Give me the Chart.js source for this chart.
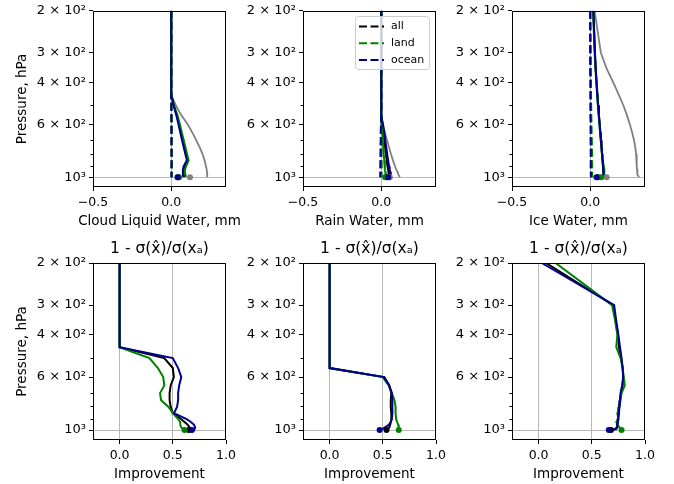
<!DOCTYPE html>
<html>
<head>
<meta charset="utf-8">
<script src="https://cdn.jsdelivr.net/npm/chart.js@4.4.1/dist/chart.umd.min.js"></script>
<style>
  html, body { margin: 0; padding: 0; background: #fff; overflow: hidden; }
  #fig { position: relative; width: 674px; height: 484px; overflow: hidden; }
  #fig canvas { position: absolute; }
</style>
</head>
<body>
<div id="fig"></div>
<script>
// pressure levels, hPa
const levels = [200, 300, 350, 400, 450, 500, 550, 600, 650, 700, 750, 800, 850, 900, 925, 950, 975, 1000];

// y axis ticks
const yTicks = [200, 300, 400, 600, 1000];
const yTickLabels = ['2 × 10²', '3 × 10²', '4 × 10²', '6 × 10²', '10³'];
const yMinorTicks = [500, 700, 800, 900];

// x axis ticks
const profileTicks = [-0.5, 0.0];
const profileTickLabels = ['−0.5', '0.0'];
const improvementTicks = [0.0, 0.5, 1.0];
const improvementTickLabels = ['0.0', '0.5', '1.0'];

// cloud liquid water, mm
const clwPrior = [0, 0, 0, 0, 0, 0.03, 0.065, 0.105, 0.135, 0.16, 0.182, 0.2, 0.213, 0.222, 0.226, 0.229, 0.23, 0.23];
const clwAll = [0, 0, 0, 0, 0, 0.016, 0.036, 0.05, 0.062, 0.074, 0.085, 0.095, 0.105, 0.085, 0.081, 0.079, 0.081, 0.083];
const clwLand = [0, 0, 0, 0, 0, 0.018, 0.04, 0.055, 0.068, 0.08, 0.091, 0.101, 0.111, 0.095, 0.089, 0.087, 0.09, 0.092];
const clwOcean = [0, 0, 0, 0, 0, 0.015, 0.033, 0.046, 0.058, 0.069, 0.08, 0.09, 0.1, 0.079, 0.075, 0.074, 0.075, 0.078];
const clwBiasAll = [0, 0, 0, 0, 0, 0.001, 0.001, 0.002, 0.002, 0.002, 0.002, 0.002, 0.003, 0.002, 0.002, 0.002, 0.002, 0.002];
const clwBiasLand = [0, 0, 0, 0, 0, 0.001, 0.002, 0.003, 0.003, 0.003, 0.003, 0.003, 0.004, 0.003, 0.003, 0.003, 0.003, 0.003];
const clwBiasOcean = [0, 0, 0, 0, 0, 0.001, 0.001, 0.001, 0.001, 0.001, 0.002, 0.002, 0.002, 0.002, 0.002, 0.002, 0.002, 0.002];
const clwSurface = [0.045, 0.05, 0.04, 0.12]; // all, land, ocean, prior

// rain water, mm
const rainPrior = [0, 0, 0, 0, 0, 0, 0, 0.012, 0.024, 0.037, 0.05, 0.062, 0.075, 0.088, 0.095, 0.104, 0.11, 0.118];
const rainAll = [0, 0, 0, 0, 0, 0, 0, 0.008, 0.015, 0.02, 0.025, 0.03, 0.035, 0.04, 0.043, 0.046, 0.049, 0.05];
const rainLand = [0, 0, 0, 0, 0, 0, 0, 0.004, 0.007, 0.01, 0.013, 0.016, 0.019, 0.022, 0.024, 0.026, 0.028, 0.03];
const rainOcean = [0, 0, 0, 0, 0, 0, 0, 0.01, 0.02, 0.026, 0.032, 0.038, 0.044, 0.05, 0.054, 0.057, 0.06, 0.062];
const rainBiasAll = [0, 0, 0, 0, 0, 0, 0, -0.001, -0.002, -0.002, -0.003, -0.003, -0.003, -0.004, -0.004, -0.004, -0.004, -0.004];
const rainBiasLand = [0, 0, 0, 0, 0, 0, 0, 0.001, 0.001, 0.002, 0.002, 0.002, 0.003, 0.003, 0.003, 0.003, 0.003, 0.003];
const rainBiasOcean = [0, 0, 0, 0, 0, 0, 0, -0.002, -0.003, -0.003, -0.004, -0.004, -0.005, -0.005, -0.006, -0.006, -0.006, -0.006];
const rainSurface = [0.035, 0.025, 0.045, 0.055];

// ice water, mm
const icePrior = [0.028, 0.068, 0.105, 0.147, 0.182, 0.212, 0.235, 0.253, 0.268, 0.28, 0.288, 0.293, 0.296, 0.298, 0.299, 0.3, 0.302, 0.312];
const iceAll = [0.02, 0.03, 0.035, 0.041, 0.046, 0.051, 0.056, 0.061, 0.065, 0.069, 0.073, 0.076, 0.079, 0.082, 0.084, 0.086, 0.087, 0.085];
const iceLand = [0.018, 0.028, 0.033, 0.039, 0.044, 0.049, 0.054, 0.059, 0.063, 0.067, 0.071, 0.075, 0.081, 0.086, 0.089, 0.091, 0.089, 0.087];
const iceOcean = [0.02, 0.03, 0.035, 0.04, 0.045, 0.05, 0.055, 0.06, 0.064, 0.068, 0.072, 0.075, 0.078, 0.081, 0.083, 0.085, 0.086, 0.084];
const iceBiasAll = [0, 0.001, 0.002, 0.003, 0.003, 0.004, 0.004, 0.005, 0.005, 0.006, 0.006, 0.006, 0.006, 0.006, 0.006, 0.006, 0.006, 0.006];
const iceBiasLand = [0, 0.002, 0.003, 0.004, 0.005, 0.006, 0.007, 0.008, 0.009, 0.01, 0.011, 0.012, 0.012, 0.012, 0.013, 0.013, 0.013, 0.012];
const iceBiasOcean = [0, 0, 0, 0.001, 0.001, 0.001, 0.001, 0.002, 0.002, 0.002, 0.003, 0.003, 0.003, 0.003, 0.003, 0.003, 0.004, 0.004];
const iceSurface = [0.05, 0.07, 0.04, 0.105];

// improvement 1 - sigma(xhat)/sigma(xa)
const impClwAll = [0, 0, 0, 0, 0, 0.42, 0.5, 0.51, 0.48, 0.47, 0.47, 0.48, 0.5, 0.58, 0.61, 0.64, 0.66, 0.66];
const impClwLand = [0, 0, 0, 0, 0, 0.28, 0.36, 0.41, 0.42, 0.38, 0.39, 0.46, 0.5, 0.55, 0.57, 0.57, 0.58, 0.61];
const impClwOcean = [0, 0, 0, 0, 0, 0.5, 0.55, 0.58, 0.56, 0.55, 0.55, 0.54, 0.51, 0.63, 0.67, 0.7, 0.71, 0.7];
const impClwSurface = [0.65, 0.61, 0.68];

const impRainAll = [0, 0, 0, 0, 0, 0, 0, 0.515, 0.56, 0.58, 0.575, 0.575, 0.58, 0.58, 0.575, 0.57, 0.56, 0.545];
const impRainLand = [0, 0, 0, 0, 0, 0, 0, 0.5, 0.555, 0.585, 0.61, 0.62, 0.62, 0.625, 0.635, 0.645, 0.65, 0.655];
const impRainOcean = [0, 0, 0, 0, 0, 0, 0, 0.51, 0.56, 0.585, 0.59, 0.59, 0.59, 0.585, 0.575, 0.555, 0.52, 0.48];
const impRainSurface = [0.535, 0.65, 0.47];

const impIceAll = [0.07, 0.7, 0.725, 0.745, 0.755, 0.775, 0.79, 0.795, 0.79, 0.775, 0.765, 0.755, 0.75, 0.745, 0.74, 0.74, 0.74, 0.72];
const impIceLand = [0.16, 0.69, 0.72, 0.74, 0.73, 0.77, 0.79, 0.8, 0.81, 0.78, 0.77, 0.76, 0.74, 0.75, 0.73, 0.745, 0.76, 0.79];
const impIceOcean = [0.03, 0.71, 0.73, 0.75, 0.765, 0.78, 0.79, 0.795, 0.785, 0.77, 0.765, 0.76, 0.755, 0.75, 0.745, 0.74, 0.735, 0.7];
const impIceSurface = [0.68, 0.78, 0.66];

const BLACK = '#000000', GREEN = '#008000', NAVY = '#00008b', GRAY = '#808080', GRID = '#b8b8b8';
const DASH = [8, 3.5];

Chart.defaults.font.family = '"DejaVu Sans", sans-serif';
Chart.defaults.color = '#000';

const fig = document.getElementById('fig');

function profile(values) {
    return values.map((v, i) => ({ x: v, y: levels[i] }));
}

function lineDataset(values, color, width, dash, label) {
    return {
        label: label || '',
        legendEntry: !!label,
        data: profile(values),
        showLine: true,
        borderColor: color,
        backgroundColor: color,
        borderWidth: width,
        borderDash: dash || [],
        pointRadius: 0
    };
}

function surfaceDataset(value, color) {
    return {
        data: [{ x: value, y: 1000 }],
        showLine: false,
        pointRadius: 3,
        pointBorderWidth: 0,
        backgroundColor: color,
        borderColor: color
    };
}

// black frame on all four sides, like matplotlib spines
const framePlugin = {
    id: 'frame',
    afterDatasetsDraw(chart) {
        const { ctx, chartArea: a } = chart;
        ctx.save();
        ctx.strokeStyle = '#000';
        ctx.lineWidth = 1;
        ctx.strokeRect(Math.round(a.left) + 0.5, Math.round(a.top) + 0.5,
            Math.round(a.right - a.left) - 1, Math.round(a.bottom - a.top) - 1);
        ctx.restore();
    }
};

// matplotlib style boxed legend, entries taken from the datasets
const boxLegend = {
    id: 'boxLegend',
    afterDraw(chart, args, opts) {
        if (!opts.show) return;
        const items = chart.data.datasets.filter(d => d.legendEntry);
        const { ctx, chartArea: a } = chart;
        const bw = 74, bh = 53;
        const bx = Math.round(a.right - 7 - bw), by = Math.round(a.top + 5);
        ctx.save();
        ctx.beginPath();
        ctx.roundRect(bx + 0.5, by + 0.5, bw, bh, 3);
        ctx.fillStyle = 'rgba(255,255,255,0.8)';
        ctx.fill();
        ctx.strokeStyle = '#cccccc';
        ctx.lineWidth = 1;
        ctx.stroke();
        ctx.font = '11px "DejaVu Sans"';
        ctx.textBaseline = 'middle';
        ctx.textAlign = 'left';
        items.forEach((d, i) => {
            const y = by + 10.5 + i * 16.7;
            ctx.beginPath();
            ctx.setLineDash(d.borderDash);
            ctx.strokeStyle = d.borderColor;
            ctx.lineWidth = d.borderWidth;
            ctx.moveTo(bx + 4, y);
            ctx.lineTo(bx + 29, y);
            ctx.stroke();
            ctx.setLineDash([]);
            ctx.fillStyle = '#000';
            ctx.fillText(d.label, bx + 36, y);
        });
        ctx.restore();
    }
};

function buildChart(row, col, datasets, xCfg, showLegend) {
    const plotLeft = [93, 303, 512][col];
    const padTop = row === 0 ? 10 : 30;
    const canvasTop = row === 0 ? 0 : 233;
    // symmetric side space so the full width titles centre on the plot
    const w = 90 + 133 + 90, h = padTop + 177 + 50;

    const canvas = document.createElement('canvas');
    canvas.width = w;
    canvas.height = h;
    canvas.style.left = (plotLeft - 90) + 'px';
    canvas.style.top = canvasTop + 'px';
    canvas.style.width = w + 'px';
    canvas.style.height = h + 'px';
    fig.appendChild(canvas);

    const n = datasets.length;
    datasets.forEach((d, i) => { d.order = n - i; });

    new Chart(canvas, {
        type: 'scatter',
        data: { datasets },
        plugins: [framePlugin, boxLegend],
        options: {
            responsive: false,
            animation: false,
            devicePixelRatio: 1,
            events: [],
            layout: { padding: { top: row === 0 ? padTop : 0, right: 0, left: 0, bottom: 0 } },
            plugins: {
                legend: { display: false },
                tooltip: { enabled: false },
                title: {
                    display: row === 1,
                    text: '1 - σ(x̂)/σ(xₐ)',
                    font: { size: 15.5, weight: 'normal' },
                    color: '#000',
                    padding: { top: 7, bottom: 30 - 7 - 15.5 * 1.2 }
                },
                subtitle: {
                    display: true,
                    position: 'bottom',
                    text: xCfg.title,
                    font: { size: 13.5, weight: 'normal' },
                    color: '#000',
                    padding: { top: 0.5, bottom: 24 - 0.5 - 13.5 * 1.2 }
                },
                boxLegend: { show: showLegend }
            },
            scales: {
                x: {
                    type: 'linear',
                    min: xCfg.min,
                    max: xCfg.max,
                    afterBuildTicks: s => { s.ticks = xCfg.ticks.map(v => ({ value: v })); },
                    afterFit: s => { s.height = 26; },
                    ticks: {
                        autoSkip: false,
                        maxRotation: 0,
                        font: { size: 12.5 },
                        padding: 4,
                        callback: v => xCfg.labels[xCfg.ticks.indexOf(v)]
                    },
                    grid: {
                        color: c => (c.tick && xCfg.grid.includes(c.tick.value)) ? GRID : 'rgba(0,0,0,0)',
                        tickColor: '#000',
                        tickLength: 4,
                        lineWidth: 1
                    },
                    border: { display: false }
                },
                y: {
                    type: 'logarithmic',
                    position: 'left',
                    reverse: true,
                    min: 200,
                    max: 1100,
                    weight: 1,
                    afterBuildTicks: s => { s.ticks = yTicks.map(v => ({ value: v })); },
                    afterFit: s => { s.width = 90; },
                    ticks: {
                        autoSkip: false,
                        font: { size: 13 },
                        padding: 3,
                        callback: v => yTickLabels[yTicks.indexOf(v)]
                    },
                    grid: {
                        color: c => (c.tick && c.tick.value === 1000) ? GRID : 'rgba(0,0,0,0)',
                        tickColor: '#000',
                        tickLength: 4,
                        lineWidth: 1
                    },
                    border: { display: false },
                    title: {
                        display: col === 0,
                        text: 'Pressure, hPa',
                        font: { size: 13.5 },
                        padding: { top: 11.4, bottom: 0 }
                    }
                },
                yMinor: {
                    type: 'logarithmic',
                    position: 'left',
                    reverse: true,
                    min: 200,
                    max: 1100,
                    weight: 0,
                    afterBuildTicks: s => { s.ticks = yMinorTicks.map(v => ({ value: v })); },
                    afterFit: s => { s.width = 0; },
                    ticks: { display: false },
                    grid: { drawOnChartArea: false, tickColor: '#000', tickLength: 2.5, lineWidth: 1 },
                    border: { display: false }
                },
                // empty right side box, balances the left axis
                pad: {
                    type: 'linear',
                    position: 'right',
                    afterFit: s => { s.width = 90; },
                    ticks: { display: false },
                    grid: { display: false },
                    border: { display: false }
                }
            }
        }
    });
}

const profilePanels = [
    { title: 'Cloud Liquid Water, mm', prior: clwPrior, all: clwAll, land: clwLand, ocean: clwOcean,
      bias: [clwBiasAll, clwBiasLand, clwBiasOcean], surface: clwSurface, legend: false },
    { title: 'Rain Water, mm', prior: rainPrior, all: rainAll, land: rainLand, ocean: rainOcean,
      bias: [rainBiasAll, rainBiasLand, rainBiasOcean], surface: rainSurface, legend: true },
    { title: 'Ice Water, mm', prior: icePrior, all: iceAll, land: iceLand, ocean: iceOcean,
      bias: [iceBiasAll, iceBiasLand, iceBiasOcean], surface: iceSurface, legend: false }
];

const improvementPanels = [
    { all: impClwAll, land: impClwLand, ocean: impClwOcean, surface: impClwSurface },
    { all: impRainAll, land: impRainLand, ocean: impRainOcean, surface: impRainSurface },
    { all: impIceAll, land: impIceLand, ocean: impIceOcean, surface: impIceSurface }
];

profilePanels.forEach((p, col) => {
    const datasets = [
        lineDataset(p.prior, GRAY, 1.8),
        lineDataset(p.all, BLACK, 2),
        lineDataset(p.land, GREEN, 2),
        lineDataset(p.ocean, NAVY, 2),
        lineDataset(p.bias[0], BLACK, 2, DASH, 'all'),
        lineDataset(p.bias[1], GREEN, 2, DASH, 'land'),
        lineDataset(p.bias[2], NAVY, 2, DASH, 'ocean'),
        surfaceDataset(p.surface[3], GRAY),
        surfaceDataset(p.surface[0], BLACK),
        surfaceDataset(p.surface[1], GREEN),
        surfaceDataset(p.surface[2], NAVY)
    ];
    buildChart(0, col, datasets, {
        min: -0.5, max: 0.35, ticks: profileTicks, labels: profileTickLabels, grid: [0], title: p.title
    }, p.legend);
});

improvementPanels.forEach((p, col) => {
    const datasets = [
        lineDataset(p.all, BLACK, 2),
        lineDataset(p.land, GREEN, 2),
        lineDataset(p.ocean, NAVY, 2),
        surfaceDataset(p.surface[0], BLACK),
        surfaceDataset(p.surface[1], GREEN),
        surfaceDataset(p.surface[2], NAVY)
    ];
    buildChart(1, col, datasets, {
        min: -0.25, max: 1.0, ticks: improvementTicks, labels: improvementTickLabels, grid: [0, 0.5], title: 'Improvement'
    }, false);
});
</script>
</body>
</html>
